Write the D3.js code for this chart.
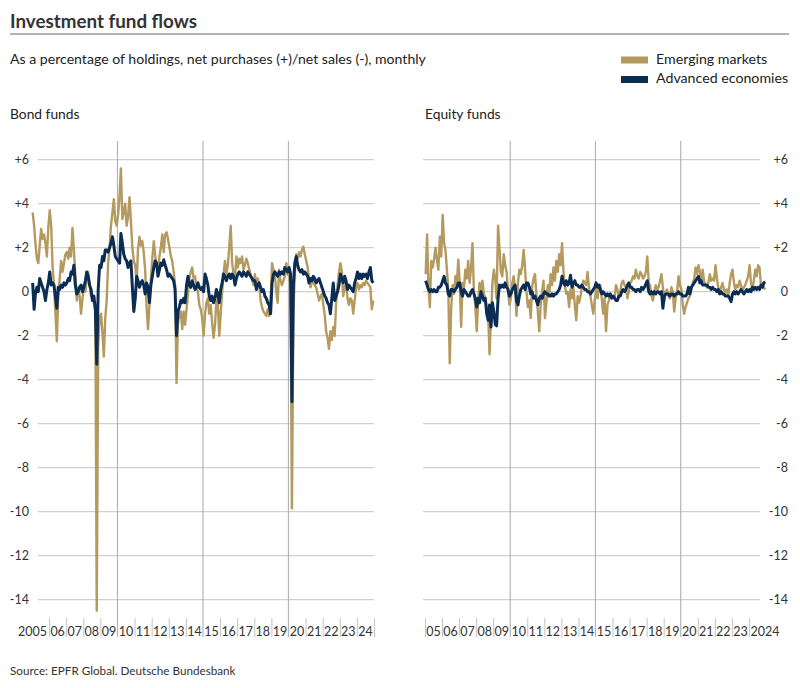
<!DOCTYPE html>
<html>
<head>
<meta charset="utf-8">
<script src="https://cdn.jsdelivr.net/npm/d3@7"></script>
<style>
  body { margin: 0; background: #fff; }
  svg { display: block; font-family: Lato, "Open Sans", sans-serif; }
</style>
</head>
<body>
<div id="chart"></div>
<script>
// Data: monthly, Jan 2005 - Dec 2024, % of holdings
let first_year = 2005;
let last_year = 2024;
let y_ticks = [6, 4, 2, 0, -2, -4, -6, -8, -10, -12, -14];
let major_years = [2010, 2015, 2020];

let bond_em = [
  3.6, 3.0, 2.2, 1.5, 1.3, 2.1, 2.85, 2.4, 2.6, 2.2, 1.6, 2.9,      // 2005
  3.7, 3.0, 1.2, 0.3, -0.9, -2.25, -0.3, 0.6, 1.4, 0.9, 1.3, 1.7,   // 2006
  1.8, 1.5, 2.0, 1.6, 2.9, 1.9, 0.8, -0.4, 0.2, -0.2, -1.0, -0.3,   // 2007
  0.2, 0.0, 0.6, 0.9, 0.3, -0.2, -0.3, -0.5, -0.8, -14.5, -2.5, -1.2, // 2008
  -1.0, -1.9, -2.95, -1.2, -0.4, 1.3, 2.0, 3.0, 3.6, 4.2, 3.2, 3.0, // 2009
  3.5, 4.4, 5.6, 3.3, 3.6, 4.0, 3.0, 3.4, 4.3, 3.2, 2.0, 1.4,       // 2010
  1.2, 0.4, 1.9, 2.5, 2.1, 2.3, 1.8, 1.0, -0.7, -1.7, -0.6, 0.6,    // 2011
  1.5, 2.3, 1.7, 1.2, 0.9, 1.6, 2.0, 2.6, 1.8, 2.6, 2.7, 2.4,       // 2012
  2.0, 1.6, 1.4, 0.9, 0.3, -4.15, -1.5, -1.0, -0.9, -1.7, -0.9, -1.5, // 2013
  -0.8, -0.1, 0.6, 0.9, 1.1, 0.6, 0.7, 0.2, 0.0, -0.6, -0.8, -1.2,  // 2014
  -2.0, -1.0, -0.5, -0.3, -1.0, -0.6, -1.4, -2.1, -1.5, -0.4, -0.5, -2.0, // 2015
  -1.0, 0.0, 0.8, 1.4, 0.8, 1.2, 2.0, 3.0, 1.3, 0.8, 0.6, 1.6,      // 2016
  1.1, 1.5, 1.3, 1.6, 1.0, 1.2, 1.5, 1.3, 1.0, 0.8, 0.5, 0.3,       // 2017
  0.8, 0.2, 0.6, 0.4, -0.4, -0.7, -0.9, -1.0, -1.1, -0.8, -1.1, -0.4, // 2018
  1.3, 1.0, 0.8, 0.0, -0.5, 1.0, 0.5, 0.3, 0.5, 0.7, 1.3, 0.8,      // 2019
  0.7, 0.3, -9.85, -1.0, 0.8, 1.7, 1.5, 1.8, 1.6, 1.9, 2.05, 1.7,   // 2020
  1.4, 1.1, 0.6, 0.2, 0.4, 0.5, 0.3, 0.2, -0.1, -0.4, -0.2, -0.1,   // 2021
  -0.6, -1.1, -1.8, -2.1, -2.6, -1.8, -2.2, -1.6, -2.0, -0.5, 0.3, 0.9, // 2022
  1.3, 0.9, -0.2, 0.2, 0.4, -0.3, -0.6, -0.3, -0.4, -1.0, -0.4, 0.2, // 2023
  0.4, 0.1, 0.3, 0.2, 0.4, 0.3, 0.5, 0.4, 0.3, 0.2, -0.8, -0.4      // 2024
];

let bond_ae = [
  0.4, -0.8, -0.1, 0.2, 0.0, 0.6, 0.4, 0.2, 0.0, -0.4, 0.1, 0.4,
  0.9, 0.3, 0.4, 0.3, -0.2, -0.75, 0.2, 0.1, 0.3, 0.2, 0.4, 0.3,
  0.4, 0.6, 0.5, 0.9, 0.8, 1.2, 0.3, -0.1, 0.0, 0.2, 0.3, 0.0,
  0.2, 0.5, 0.9, 0.7, 0.3, 0.1, -0.4, -0.2, -0.8, -3.3, 0.1, 1.2,
  1.1, 1.6, 1.4, 1.9, 1.9, 1.8, 2.0, 2.2, 2.5, 2.1, 1.6, 1.5,
  1.4, 1.3, 2.65, 2.2, 1.7, 1.5, 1.4, 1.1, 1.3, 1.4, 0.2, -0.9,
  -0.3, 0.7, 0.5, 0.2, 0.4, 0.5, 0.3, -0.1, 0.4, 0.2, -0.5, 0.3,
  0.7, 1.1, 1.4, 1.3, 0.7, 1.0, 1.3, 1.2, 1.45, 1.2, 1.0, 0.7,
  0.8, 0.7, 0.6, 0.5, 0.1, -2.0, -0.9, -0.7, -0.4, -0.5, -0.3, -0.5,
  0.3, 0.7, 0.3, 0.2, 0.5, 0.3, 0.1, 0.2, 0.4, 0.2, 0.1, 0.2,
  0.0, 0.8, 0.6, 0.3, -0.2, -0.4, -0.2, -0.5, -0.3, 0.1, -0.1, -0.5,
  0.1, 0.4, 0.8, 0.7, 0.5, 0.7, 0.8, 0.6, 0.8, 0.7, 0.3, 0.6,
  0.8, 0.9, 0.8, 0.7, 0.9, 0.8, 0.7, 0.9, 0.8, 0.7, 0.6, 0.5,
  0.5, 0.1, 0.3, 0.4, 0.2, 0.0, 0.1, -0.2, -0.3, -0.5, -0.6, -1.0,
  0.4, 0.8, 0.9, 0.8, 0.7, 0.9, 0.8, 0.9, 0.8, 1.1, 1.0, 0.9,
  1.1, 0.8, -5.0, 0.3, 1.3, 1.6, 1.2, 1.0, 0.9, 1.0, 0.8, 0.9,
  0.8, 0.7, 0.4, 0.6, 0.5, 0.7, 0.6, 0.4, 0.5, 0.6, 0.4, 0.2,
  0.0, -0.2, -0.3, -0.5, -0.6, -1.0, -0.3, 0.4, -0.4, -0.2, 0.0, 0.3,
  0.8, 0.6, 0.4, 0.7, 0.5, 0.1, 0.3, 0.2, 0.1, 0.0, 0.4, 0.6,
  0.9, 0.6, 0.8, 0.6, 0.8, 0.7, 0.8, 0.6, 0.9, 1.1, 0.5, 0.4
];

let equity_em = [
  0.8, 2.6, 0.3, -0.7, 1.4, 1.1, 1.5, 2.0, 1.4, 1.0, 2.5, 1.6,
  3.5, 2.2, 1.9, 1.0, 0.1, -3.25, -0.8, 0.3, -0.1, 0.7, 0.4, 1.45,
  0.4, -1.6, 0.4, 0.1, 1.0, 0.6, 1.4, 0.4, 1.1, 2.2, 0.0, -0.7,
  -1.8, -0.4, 0.4, 0.0, 0.5, -0.1, -0.3, -0.7, -1.0, -2.85, -1.2, 0.4,
  1.0, 0.5, -0.3, 3.0, 2.0, 0.9, 0.7, 1.7, 1.2, 0.9, 0.0, -0.6,
  -0.3, 0.4, 0.7, 0.2, -1.1, 0.4, 1.0, 0.8, 1.2, 1.9, 1.0, 0.0,
  -0.7, -0.4, -1.2, 0.2, 0.6, 0.8, -0.1, -0.9, -1.8, -0.6, 0.0, 0.5,
  -1.2, -0.5, 0.3, -0.2, 0.8, 0.3, 1.1, 0.5, 1.4, 0.9, 1.7, 1.2,
  2.2, 0.9, 0.3, -0.1, 0.0, -0.7, 0.1, -0.3, 0.2, -0.6, -1.3, -0.2,
  -0.5, -0.2, 0.2, 0.5, 0.4, 0.3, 0.9, 0.2, -0.2, -0.6, -1.0, -0.4,
  0.1, -0.3, 0.2, 0.3, -0.3, -1.0, -0.3, -1.8, -0.6, -0.4, -0.1, -0.2,
  -0.2, -0.3, 0.3, 0.1, -0.2, 0.0, 0.4, 0.5, 0.3, 0.2, -0.3, 0.0,
  0.4, 0.5, 0.7, 0.6, 1.0, 0.7, 0.6, 0.9, 0.8, 0.6, 0.7, 0.9,
  1.6, 0.4, 0.3, -0.2, -0.4, 0.0, 0.3, 0.1, 0.2, 0.5, 0.8, 0.2,
  -0.4, 0.0, 0.1, -0.2, -0.3, 0.2, 0.0, -0.9, -0.3, 0.0, 0.7, 0.3,
  0.1, -0.6, -1.0, -0.7, -0.5, -0.3, -0.2, 0.1, 0.4, 0.6, 1.1, 0.8,
  1.2, 0.9, 0.5, 1.0, 0.5, 0.3, 0.2, 0.4, 0.8, 0.5, 0.6, 0.5,
  1.2, 0.6, 0.2, -0.1, 0.2, 0.4, 0.1, 0.0, 0.1, -0.2, 0.4, 0.8,
  1.0, 0.4, 0.1, 0.3, 0.2, 0.5, 0.3, 0.0, 0.2, 0.3, 0.5, 0.7,
  1.2, 0.4, 0.1, 0.5, 1.0, 0.7, 1.2, 1.1, 0.3, 0.4, 0.2, 0.1
];

let equity_ae = [
  0.5, 0.3, 0.1, 0.0, 0.1, 0.0, 0.1, 0.0, 0.0, 0.2, 0.2, 0.3,
  0.5, 0.7, 0.4, 0.3, -0.1, -0.2, 0.1, 0.1, 0.0, 0.1, 0.2, 0.4,
  0.4, 0.0, -0.2, 0.1, 0.0, -0.1, -0.2, -0.2, 0.0, 0.1, -0.1, -0.3,
  -0.7, -0.3, -0.5, 0.0, -0.2, -0.4, -0.3, -1.0, -1.3, -0.6, -1.6, -0.5,
  -0.9, -1.5, -1.55, -0.3, 0.3, 0.2, 0.3, 0.2, 0.4, 0.2, 0.1, -0.2,
  -0.1, 0.1, 0.2, 0.3, -0.4, -0.6, -0.2, 0.1, 0.2, 0.3, 0.1, 0.4,
  0.4, 0.2, -0.1, 0.0, -0.3, -0.2, -0.4, -0.6, -0.3, -0.2, -0.3, -0.1,
  0.0, -0.1, -0.1, -0.2, -0.2, -0.1, -0.2, -0.1, -0.1, 0.0, 0.1, 0.3,
  0.7, 0.4, 0.3, 0.5, 0.3, 0.4, 0.75, 0.2, 0.4, 0.5, 0.3, 0.3,
  0.2, 0.2, 0.3, 0.2, 0.1, 0.1, 0.0, 0.0, -0.1, 0.0, 0.1, 0.2,
  0.4, 0.2, 0.3, 0.1, -0.1, 0.0, -0.1, -0.2, -0.1, -0.2, -0.1, -0.3,
  -0.2, -0.3, -0.4, -0.4, -0.2, -0.2, 0.0, 0.1, 0.0, 0.1, 0.3, 0.4,
  0.2, 0.2, 0.1, 0.1, 0.0, 0.1, 0.1, 0.0, 0.2, 0.1, 0.2, 0.35,
  0.5, 0.0, -0.1, 0.0, -0.1, 0.0, -0.1, 0.0, 0.0, -0.1, 0.0, -0.75,
  -0.2, -0.1, -0.1, -0.1, -0.2, -0.1, -0.1, -0.2, -0.1, -0.1, 0.0, -0.1,
  -0.1, -0.2, -0.2, -0.2, -0.1, 0.2, -0.1, 0.2, 0.3, 0.4, 0.5, 0.6,
  0.7, 0.4, 0.5, 0.3, 0.3, 0.3, 0.3, 0.2, 0.2, 0.1, 0.2, 0.1,
  0.1, 0.0, 0.1, -0.1, 0.0, -0.1, -0.1, -0.2, -0.2, -0.2, -0.3, -0.45,
  -0.1, 0.0, -0.1, 0.0, -0.1, 0.0, 0.1, 0.0, -0.1, 0.0, 0.1, 0.0,
  0.1, 0.0, 0.2, 0.1, 0.2, 0.1, 0.2, 0.1, 0.3, 0.2, 0.4, 0.45
];

let gold = "#b59a5f";
let navy = "#0b2c53";
let grid_color = "#cfcfcf";
let major_color = "#b4b4b4";

function MonthDate(i){
  return new Date(first_year + Math.floor(i / 12), i % 12, 15);
}

function BuildPanel(svg, opts){
  let x_scale = d3.scaleTime()
    .domain([new Date(first_year, 0, 1), new Date(last_year + 1, 0, 1)])
    .range([opts.x0, opts.x1]);

  let y_scale = d3.scaleLinear()
    .domain([6, -14])
    .range([159.7, 599.7]);

  let g = svg.append('g');

  // Horizontal gridlines
  g.selectAll('line.hgrid')
    .data(y_ticks)
    .enter()
    .append('line')
    .attr('x1', opts.gx0)
    .attr('x2', opts.gx1)
    .attr('y1', (d) => y_scale(d))
    .attr('y2', (d) => y_scale(d))
    .attr('stroke', grid_color)
    .attr('stroke-width', 1.2);

  // Year ticks below the plot
  let tick_years = d3.range(opts.first_tick, opts.last_tick + 1)
    .filter((y) => major_years.indexOf(y) < 0);
  let x_axis = d3.axisBottom(x_scale)
    .tickValues(tick_years.map((y) => new Date(y, 0, 1)))
    .tickSize(19)
    .tickFormat('');
  let ax = g.append('g')
    .attr('transform', 'translate(0,618)')
    .call(x_axis);
  ax.select('.domain').remove();
  ax.selectAll('.tick line')
    .attr('stroke', '#c4c4c4')
    .attr('stroke-width', 1);

  // Major vertical lines
  g.selectAll('line.vmajor')
    .data(major_years)
    .enter()
    .append('line')
    .attr('x1', (d) => x_scale(new Date(d, 0, 1)))
    .attr('x2', (d) => x_scale(new Date(d, 0, 1)))
    .attr('y1', 141)
    .attr('y2', 637)
    .attr('stroke', major_color)
    .attr('stroke-width', 1.2);

  // Year labels
  let years = d3.range(first_year, last_year + 1);
  g.selectAll('text.year')
    .data(years)
    .enter()
    .append('text')
    .attr('x', (d) => {
      if (d == first_year && opts.long_first) return x_scale(new Date(d + 1, 0, 1)) - 2;
      if (d == last_year && opts.long_last) return x_scale(new Date(d, 0, 1)) + 1.5;
      return (x_scale(new Date(d, 0, 1)) + x_scale(new Date(d + 1, 0, 1))) / 2;
    })
    .attr('y', 636)
    .attr('text-anchor', (d) => {
      if (d == first_year && opts.long_first) return 'end';
      if (d == last_year && opts.long_last) return 'start';
      return 'middle';
    })
    .style('font-size', '12.5px')
    .attr('fill', '#333')
    .text((d) => {
      if ((d == first_year && opts.long_first) || (d == last_year && opts.long_last)) return String(d);
      return String(d).slice(2);
    });

  // Y labels
  g.selectAll('text.ylab')
    .data(y_ticks)
    .enter()
    .append('text')
    .attr('x', opts.label_x)
    .attr('y', (d) => y_scale(d) + 4.5)
    .attr('text-anchor', 'end')
    .style('font-size', '12.5px')
    .attr('fill', '#333')
    .text((d) => d > 0 ? '+' + d : String(d));

  // Lines
  let line = d3.line()
    .x((d, i) => x_scale(MonthDate(i)))
    .y((d) => y_scale(d))
    .curve(d3.curveLinear);

  g.append('path')
    .datum(opts.em)
    .attr('d', line)
    .attr('fill', 'none')
    .attr('stroke', gold)
    .attr('stroke-width', 2.4)
    .attr('stroke-linejoin', 'round');

  g.append('path')
    .datum(opts.ae)
    .attr('d', line)
    .attr('fill', 'none')
    .attr('stroke', navy)
    .attr('stroke-width', 3)
    .attr('stroke-linejoin', 'round');

  // Panel title
  svg.append('text')
    .attr('x', opts.title_x)
    .attr('y', 119)
    .style('font-size', '13.8px')
    .attr('fill', '#222')
    .text(opts.title);
}

function BuildGraph(){
  let svg = d3.select('#chart')
    .append('svg')
    .attr('width', 800)
    .attr('height', 688);

  svg.append('text')
    .attr('x', 10)
    .attr('y', 28)
    .style('font-size', '18.8px')
    .style('font-weight', 'bold')
    .attr('fill', '#333')
    .text('Investment fund flows');

  svg.append('line')
    .attr('x1', 10).attr('x2', 789)
    .attr('y1', 34).attr('y2', 34)
    .attr('stroke', '#9a9a9a')
    .attr('stroke-width', 1.5);

  svg.append('text')
    .attr('x', 10)
    .attr('y', 64)
    .style('font-size', '14.1px')
    .attr('fill', '#222')
    .text('As a percentage of holdings, net purchases (+)/net sales (-), monthly');

  // Legend
  let legend = svg.append('g');
  let legend_items = [
    { name: 'Emerging markets', color: gold },
    { name: 'Advanced economies', color: navy }
  ];
  legend.selectAll('rect')
    .data(legend_items)
    .enter()
    .append('rect')
    .attr('x', 621)
    .attr('y', (d, i) => 56.5 + i * 19.5)
    .attr('width', 27)
    .attr('height', 7)
    .attr('fill', (d) => d.color);
  legend.selectAll('text')
    .data(legend_items)
    .enter()
    .append('text')
    .attr('x', 656)
    .attr('y', (d, i) => 63.5 + i * 19.5)
    .style('font-size', '14.2px')
    .attr('fill', '#222')
    .text((d) => d.name);

  BuildPanel(svg, {
    title: 'Bond funds', title_x: 10,
    x0: 32, x1: 374, gx0: 38, gx1: 374,
    first_tick: 2006, last_tick: 2025,
    long_first: true, long_last: false,
    label_x: 29,
    em: bond_em, ae: bond_ae
  });

  BuildPanel(svg, {
    title: 'Equity funds', title_x: 425,
    x0: 425, x1: 766, gx0: 423, gx1: 760,
    first_tick: 2005, last_tick: 2024,
    long_first: false, long_last: true,
    label_x: 788,
    em: equity_em, ae: equity_ae
  });

  svg.append('text')
    .attr('x', 10)
    .attr('y', 675)
    .style('font-size', '11.7px')
    .attr('fill', '#333')
    .text('Source: EPFR Global. Deutsche Bundesbank');
}

document.addEventListener('DOMContentLoaded', function(){
  BuildGraph();
});
</script>
</body>
</html>
